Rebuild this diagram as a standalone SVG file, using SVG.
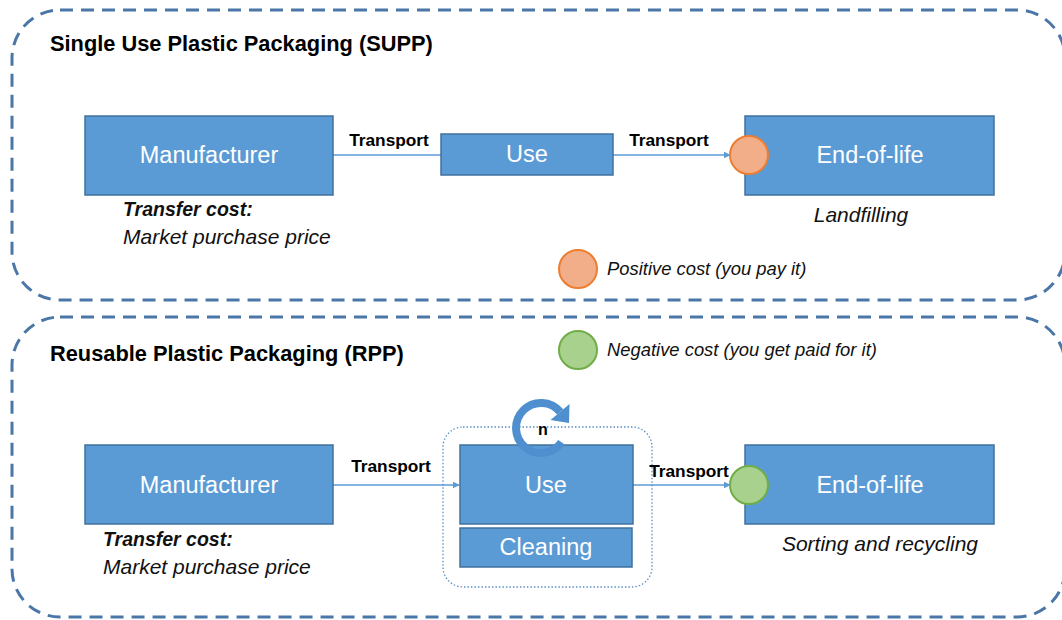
<svg xmlns="http://www.w3.org/2000/svg" width="1062" height="620" viewBox="0 0 1062 620">
<style>
.frame{fill:none;stroke:#4A77A8;stroke-width:3;stroke-dasharray:13 8}
.box{fill:#5B9BD5;stroke:#41719C;stroke-width:1.5}
.lbl{font-family:"Liberation Sans",Arial,sans-serif;font-size:23.5px;fill:#FFFFFF;text-anchor:middle}
.title{font-family:"Liberation Sans",Arial,sans-serif;font-size:21.8px;font-weight:bold;fill:#000}
.tr{font-family:"Liberation Sans",Arial,sans-serif;font-size:17.3px;font-weight:bold;fill:#000;text-anchor:middle}
.it{font-family:"Liberation Sans",Arial,sans-serif;font-size:21px;font-style:italic;fill:#111}
.bi{font-family:"Liberation Sans",Arial,sans-serif;font-size:19.5px;font-style:italic;font-weight:bold;fill:#111}
.leg{font-family:"Liberation Sans",Arial,sans-serif;font-size:18.4px;font-style:italic;fill:#111}
.conn{stroke:#5B9BD5;stroke-width:1.6;fill:none}
.pos{fill:#F2AE88;stroke:#ED7D31;stroke-width:2}
.neg{fill:#A9D18E;stroke:#70AD47;stroke-width:2}
</style>
<defs>
<marker id="ah" viewBox="0 0 10 10" refX="9" refY="5" markerWidth="7" markerHeight="7" markerUnits="userSpaceOnUse" orient="auto">
<path d="M0,0 L10,5 L0,10 z" fill="#5B9BD5"/>
</marker>
</defs>
<rect width="1062" height="620" fill="#FFFFFF"/>

<g id="frame-supp">
<rect class="frame" x="12" y="10" width="1053" height="290" rx="48" ry="48"/>
<text class="title" x="50" y="51">Single Use Plastic Packaging (SUPP)</text>
</g>
<g id="frame-rpp">
<rect class="frame" x="12" y="317" width="1053" height="300" rx="48" ry="48"/>
<text class="title" x="50" y="361">Reusable Plastic Packaging (RPP)</text>
</g>

<g id="connectors">
<line class="conn" x1="333" y1="155" x2="441" y2="155"/>
<line class="conn" x1="613" y1="155" x2="730" y2="155" marker-end="url(#ah)"/>
<line class="conn" x1="333" y1="485" x2="459" y2="485" marker-end="url(#ah)"/>
<line class="conn" x1="633" y1="485" x2="730" y2="485" marker-end="url(#ah)"/>
<text class="tr" x="389" y="146">Transport</text>
<text class="tr" x="669" y="146">Transport</text>
<text class="tr" x="391" y="472">Transport</text>
<text class="tr" x="689" y="477">Transport</text>
</g>

<g id="supp-manufacturer">
<rect class="box" x="85" y="116" width="248" height="79"/>
<text class="lbl" x="209" y="163">Manufacturer</text>
<text class="bi" x="123" y="216">Transfer cost:</text>
<text class="it" x="123" y="244">Market purchase price</text>
</g>
<g id="supp-use">
<rect class="box" x="441" y="134" width="172" height="41"/>
<text class="lbl" x="527" y="162">Use</text>
</g>
<g id="supp-eol">
<rect class="box" x="745" y="116" width="249" height="79"/>
<text class="lbl" x="870" y="163">End-of-life</text>
<circle class="pos" cx="749" cy="155" r="19"/>
<text class="it" x="861" y="222" text-anchor="middle">Landfilling</text>
</g>

<g id="legend-positive">
<circle class="pos" cx="578" cy="269" r="19"/>
<text class="leg" x="607" y="275">Positive cost (you pay it)</text>
</g>
<g id="legend-negative">
<circle class="neg" cx="578" cy="350" r="19"/>
<text class="leg" x="607" y="356">Negative cost (you get paid for it)</text>
</g>

<g id="rpp-manufacturer">
<rect class="box" x="85" y="445" width="248" height="79"/>
<text class="lbl" x="209" y="493">Manufacturer</text>
<text class="bi" x="103" y="546">Transfer cost:</text>
<text class="it" x="103" y="574">Market purchase price</text>
</g>
<g id="rpp-use-cleaning">
<rect x="443" y="427" width="209" height="160" rx="20" ry="20" fill="none" stroke="#5B8FC8" stroke-width="1.3" stroke-dasharray="1.5 2"/>
<rect class="box" x="460" y="445" width="173" height="79"/>
<text class="lbl" x="546" y="493">Use</text>
<rect class="box" x="460" y="528" width="172" height="39"/>
<text class="lbl" x="546" y="555">Cleaning</text>
<path d="M561.5,442.3 A25,25 0 1 1 560.2,411.9" fill="none" stroke="#4F8FCF" stroke-width="8"/>
<path d="M569.5,404 L550.5,420 L569,423 z" fill="#4F8FCF"/>
<text x="543" y="435" font-family="'Liberation Sans',Arial,sans-serif" font-size="16" font-weight="bold" text-anchor="middle" fill="#000">n</text>
</g>
<g id="rpp-eol">
<rect class="box" x="745" y="445" width="249" height="79"/>
<text class="lbl" x="870" y="493">End-of-life</text>
<circle class="neg" cx="749" cy="485" r="19"/>
<text class="it" x="880" y="551" text-anchor="middle">Sorting and recycling</text>
</g>
</svg>
